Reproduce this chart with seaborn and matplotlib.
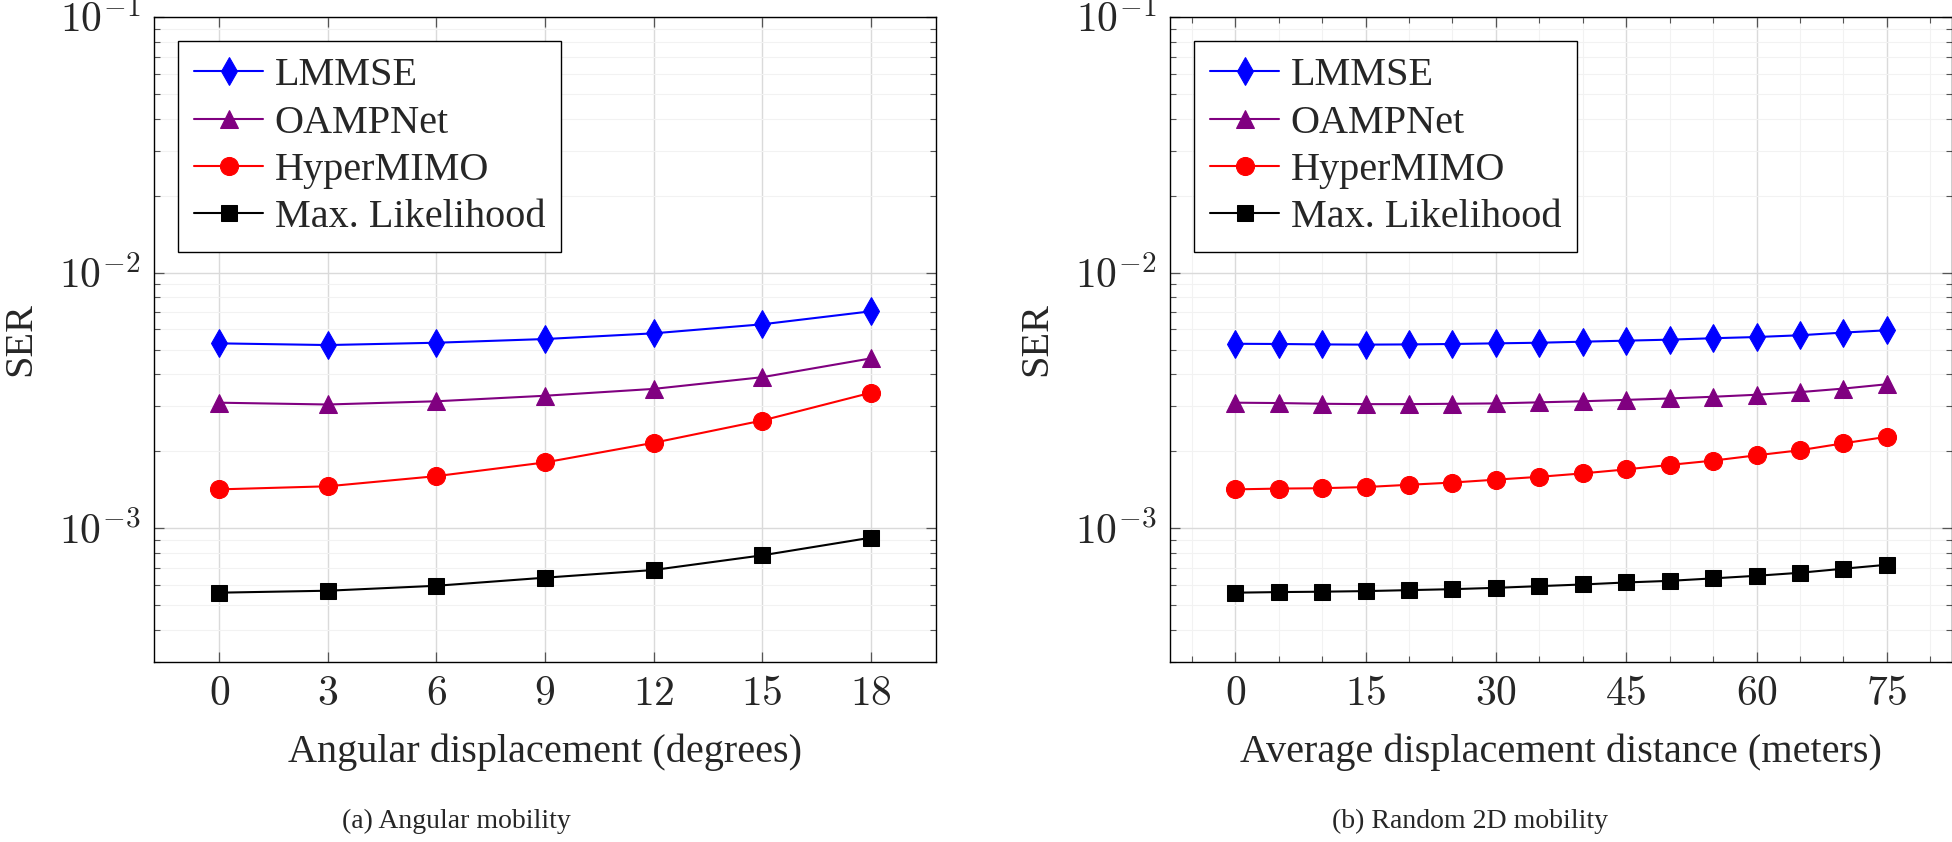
import numpy as np
import pandas as pd
import matplotlib
matplotlib.use("Agg")
import matplotlib.pyplot as plt
import matplotlib.ticker as mticker
import seaborn as sns

# Data (SER, log scale)
methods = ['LMMSE', 'OAMPNet', 'HyperMIMO', 'Max. Likelihood']

angle_deg = [0, 3, 6, 9, 12, 15, 18]
ang_lmmse = [5.29e-3, 5.21e-3, 5.32e-3, 5.50e-3, 5.79e-3, 6.28e-3, 7.06e-3]
ang_oamp = [3.10e-3, 3.05e-3, 3.14e-3, 3.30e-3, 3.51e-3, 3.90e-3, 4.62e-3]
ang_hyper = [1.42e-3, 1.46e-3, 1.60e-3, 1.81e-3, 2.16e-3, 2.64e-3, 3.39e-3]
ang_ml = [5.60e-4, 5.70e-4, 5.96e-4, 6.41e-4, 6.87e-4, 7.84e-4, 9.19e-4]

dist_m = [0, 5, 10, 15, 20, 25, 30, 35, 40, 45, 50, 55, 60, 65, 70, 75]
dist_lmmse = [5.27e-3, 5.26e-3, 5.24e-3, 5.23e-3, 5.24e-3, 5.26e-3, 5.29e-3, 5.32e-3,
              5.37e-3, 5.42e-3, 5.47e-3, 5.54e-3, 5.60e-3, 5.69e-3, 5.83e-3, 5.95e-3]
dist_oamp = [3.10e-3, 3.09e-3, 3.07e-3, 3.06e-3, 3.06e-3, 3.07e-3, 3.08e-3, 3.11e-3,
             3.14e-3, 3.18e-3, 3.22e-3, 3.27e-3, 3.33e-3, 3.41e-3, 3.52e-3, 3.66e-3]
dist_hyper = [1.42e-3, 1.43e-3, 1.435e-3, 1.45e-3, 1.48e-3, 1.51e-3, 1.55e-3, 1.59e-3,
              1.64e-3, 1.70e-3, 1.77e-3, 1.84e-3, 1.93e-3, 2.02e-3, 2.15e-3, 2.28e-3]
dist_ml = [5.60e-4, 5.63e-4, 5.65e-4, 5.68e-4, 5.73e-4, 5.78e-4, 5.85e-4, 5.94e-4,
           6.03e-4, 6.14e-4, 6.23e-4, 6.37e-4, 6.52e-4, 6.70e-4, 6.95e-4, 7.20e-4]

colors = ['#0000ff', '#800080', '#ff0000', '#000000']
markers = ['d', '^', 'o', 's']
msizes = [14, 13, 13, 12]

sns.set_style("ticks")
plt.rcParams['font.family'] = ['Liberation Serif', 'DejaVu Serif']
plt.rcParams['mathtext.fontset'] = 'cm'

fig = plt.figure(figsize=(19.52, 8.42), dpi=100)
ax1 = fig.add_axes([0.0789, 0.2138, 0.4006, 0.766])
ax2 = fig.add_axes([0.5994, 0.2138, 0.4006, 0.766])


def draw(ax, x, series, xlabel, xticks, minor_step):
    for name, vals, c, m, ms in zip(methods, series, colors, markers, msizes):
        df = pd.DataFrame({'x': x, 'y': vals})
        sns.lineplot(data=df, x='x', y='y', ax=ax, color=c, marker=m, markersize=ms,
                     markeredgecolor=c, linewidth=1.5, label=name)
    ax.set_yscale('log')
    ax.set_ylim(3e-4, 1e-1)
    span = xticks[-1] - xticks[0]
    ax.set_xlim(xticks[0] - 0.1 * span, xticks[-1] + 0.1 * span)
    ax.set_xticks(xticks)
    ax.xaxis.set_major_formatter(mticker.FuncFormatter(lambda v, _: rf'${int(v)}$'))
    if minor_step:
        ax.xaxis.set_minor_locator(mticker.MultipleLocator(minor_step))
    ax.yaxis.set_major_locator(mticker.FixedLocator([1e-3, 1e-2, 1e-1]))
    ax.yaxis.set_minor_locator(mticker.LogLocator(base=10, subs=np.arange(2, 10), numticks=20))
    ax.yaxis.set_major_formatter(mticker.FuncFormatter(
        lambda v, _: rf'$10^{{{int(round(np.log10(v)))}}}$'))
    ax.yaxis.set_minor_formatter(mticker.NullFormatter())
    ax.grid(True, which='major', color='#dadada', linewidth=1.0)
    ax.grid(True, which='minor', color='#f2f2f2', linewidth=0.8)
    ax.set_axisbelow(True)
    ax.tick_params(which='both', direction='in', top=True, right=True, color='#555555')
    ax.tick_params(which='major', length=7, width=0.9, labelsize=30, pad=10)
    ax.tick_params(which='minor', length=4, width=0.8)
    for s in ax.spines.values():
        s.set_color('black')
        s.set_linewidth(1.0)
    ax.set_xlabel(xlabel, fontsize=29, labelpad=14)
    ax.set_ylabel('SER', fontsize=29, labelpad=14)
    leg = ax.legend(loc='upper left', fontsize=29, frameon=True, fancybox=False,
                    edgecolor='black', framealpha=1, handlelength=1.7, handletextpad=0.3,
                    labelspacing=0.25, borderpad=0.4, borderaxespad=0.6)
    leg.get_frame().set_linewidth(1.0)


draw(ax1, angle_deg, [ang_lmmse, ang_oamp, ang_hyper, ang_ml],
     'Angular displacement (degrees)', [0, 3, 6, 9, 12, 15, 18], None)
draw(ax2, dist_m, [dist_lmmse, dist_oamp, dist_hyper, dist_ml],
     'Average displacement distance (meters)', [0, 15, 30, 45, 60, 75], 5)

fig.text(0.2336, 0.024, '(a) Angular mobility', fontsize=20, ha='center', va='center')
fig.text(0.753, 0.024, '(b) Random 2D mobility', fontsize=20, ha='center', va='center')

fig.savefig('out.png', dpi=100)
